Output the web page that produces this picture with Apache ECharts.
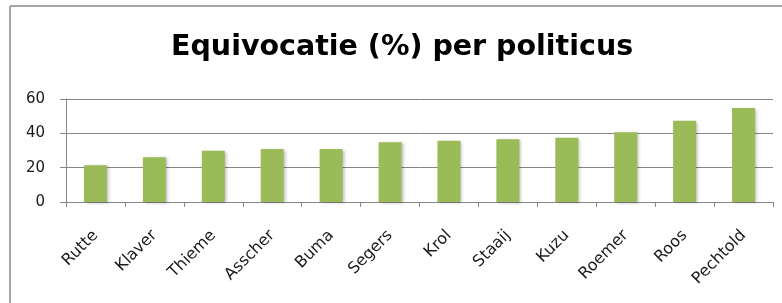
<!DOCTYPE html>
<html>
<head>
<meta charset="utf-8">
<script src="https://cdn.jsdelivr.net/npm/echarts@6/dist/echarts.min.js"></script>
<style>html,body{margin:0;padding:0;background:#fff}#c{width:782px;height:303px}</style>
</head>
<body>
<div id="c"></div>
<script>
const categories = ['Rutte','Klaver','Thieme','Asscher','Buma','Segers','Krol','Staaij','Kuzu','Roemer','Roos','Pechtold'];
const values = [21.4, 26.0, 29.9, 30.9, 30.9, 34.8, 35.7, 36.5, 37.5, 40.6, 47.4, 54.8];
const yTicks = [0, 20, 40, 60];
const titleText = 'Equivocatie (%) per politicus';

const chart = echarts.init(document.getElementById('c'), null, {renderer: 'canvas'});
chart.setOption({
  animation: false,
  backgroundColor: '#fff',
  title: {
    text: titleText,
    left: 166,
    top: 28,
    textStyle: {fontFamily: 'DejaVu Sans', fontWeight: 'bold', fontSize: 28.5, color: '#000'}
  },
  graphic: [
    {type: 'line', shape: {x1: 10, y1: 6, x2: 782, y2: 6}, style: {stroke: '#a6a6a6', lineWidth: 2}},
    {type: 'line', shape: {x1: 10, y1: 6, x2: 10, y2: 303}, style: {stroke: '#a6a6a6', lineWidth: 2}}
  ],
  grid: {left: 66, right: 9, top: 99, bottom: 101},
  xAxis: {
    type: 'category',
    data: categories,
    axisLine: {lineStyle: {color: '#868686'}},
    axisTick: {show: true, length: 5, lineStyle: {color: '#868686'}},
    axisLabel: {rotate: 45, fontFamily: 'DejaVu Sans', fontSize: 16, color: '#1a1a1a', margin: 31}
  },
  yAxis: {
    type: 'value',
    min: yTicks[0],
    max: yTicks[yTicks.length - 1],
    interval: 20,
    axisLine: {show: true, lineStyle: {color: '#868686'}},
    axisTick: {show: true, length: 6, lineStyle: {color: '#868686'}},
    axisLabel: {fontFamily: 'DejaVu Sans', fontSize: 15, color: '#1a1a1a', margin: 21},
    splitLine: {show: true, lineStyle: {color: '#868686', width: 1}}
  },
  series: [{
    type: 'bar',
    data: values,
    barWidth: 23,
    itemStyle: {color: '#9BBB59', shadowBlur: 3, shadowOffsetX: 2, shadowOffsetY: 1, shadowColor: 'rgba(0,0,0,0.25)'}
  }]
});
</script>
</body>
</html>
